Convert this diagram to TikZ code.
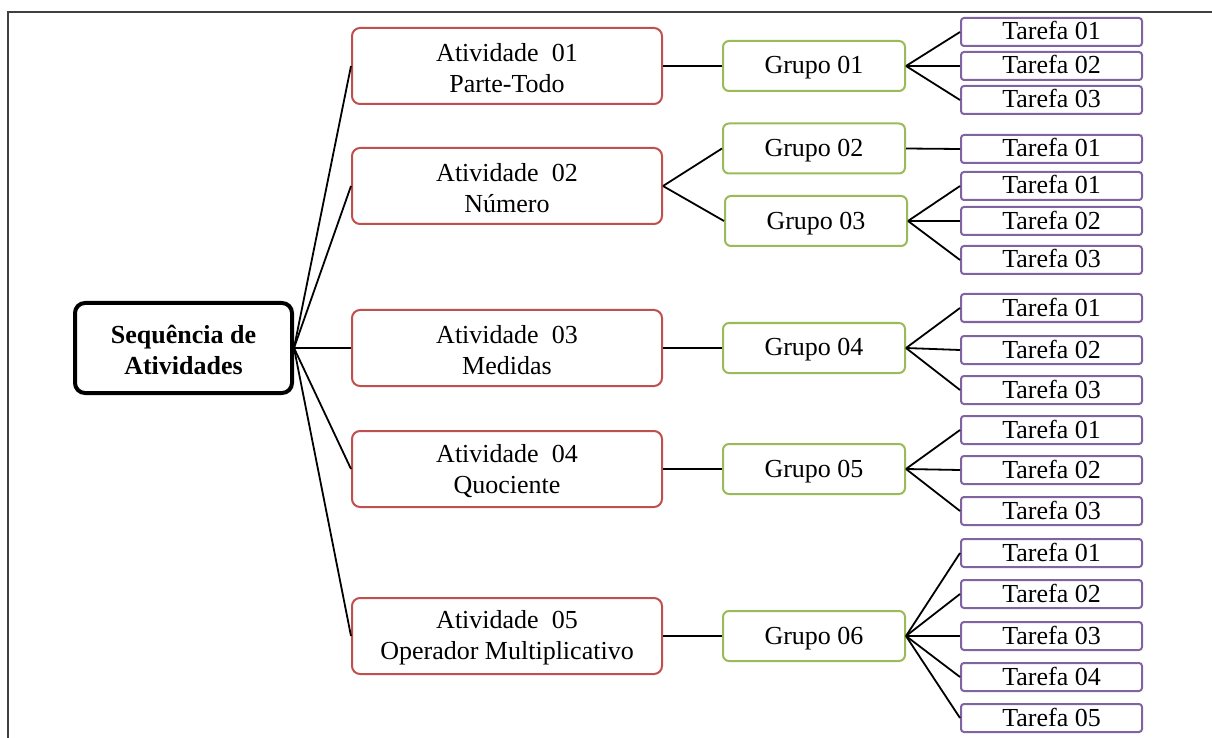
\documentclass[tikz,border=0pt]{standalone}
\usepackage{fontspec}
\setmainfont{Liberation Serif}
\definecolor{actred}{HTML}{C0504D}
\definecolor{grpgreen}{HTML}{9BBB59}
\definecolor{taskpurple}{HTML}{8064A2}
\definecolor{framegray}{HTML}{404040}
\begin{document}
\begin{tikzpicture}[x=0.5pt,y=-0.5pt,
  every node/.style={font=\fontsize{13}{15.5}\selectfont, inner sep=0pt, align=center},
  rootbox/.style={draw=black, line width=2pt, rounded corners=5pt, minimum width=108.5pt, minimum height=45pt, font=\fontsize{13}{15.5}\selectfont\bfseries},
  actbox/.style={draw=actred, line width=1pt, rounded corners=4pt, minimum width=155pt, minimum height=38pt},
  oneline/.style={text height=0.8em, text depth=0pt},
  grpbox/.style={oneline, draw=grpgreen, line width=1pt, rounded corners=3pt, minimum width=91pt, minimum height=25pt},
  taskbox/.style={oneline, draw=taskpurple, line width=1pt, rounded corners=1.5pt, minimum width=90.5pt, minimum height=14pt},
  link/.style={draw=black, line width=0.9pt}]
\useasboundingbox (0,0) rectangle (1212,738);
% frame
\draw[framegray, line width=0.8pt] (1214,12) -- (8,12) -- (8,740);

% root
\node[rootbox] (root) at (183.5,348) {\strut Sequência de\\Atividades};

% activities
\node[actbox] (a1) at (507,66)  {\strut Atividade~~01\\Parte-Todo};
\node[actbox] (a2) at (507,186) {\strut Atividade~~02\\Número};
\node[actbox] (a3) at (507,348) {\strut Atividade~~03\\Medidas};
\node[actbox] (a4) at (507,469) {\strut Atividade~~04\\Quociente};
\node[actbox] (a5) at (507,636) {\strut Atividade~~05\\Operador Multiplicativo};

% groups
\node[grpbox] (g1) at (814,66)    {Grupo 01};
\node[grpbox] (g2) at (814,148.5) {Grupo 02};
\node[grpbox] (g3) at (816,221)   {Grupo 03};
\node[grpbox] (g4) at (814,348)   {Grupo 04};
\node[grpbox] (g5) at (814,469)   {Grupo 05};
\node[grpbox] (g6) at (814,636)   {Grupo 06};

% tasks
\node[taskbox] (t11) at (1051.5,32)  {Tarefa 01};
\node[taskbox] (t12) at (1051.5,66)  {Tarefa 02};
\node[taskbox] (t13) at (1051.5,100) {Tarefa 03};
\node[taskbox] (t21) at (1051.5,149) {Tarefa 01};
\node[taskbox] (t31) at (1051.5,186) {Tarefa 01};
\node[taskbox] (t32) at (1051.5,221) {Tarefa 02};
\node[taskbox] (t33) at (1051.5,260) {Tarefa 03};
\node[taskbox] (t41) at (1051.5,308) {Tarefa 01};
\node[taskbox] (t42) at (1051.5,350) {Tarefa 02};
\node[taskbox] (t43) at (1051.5,390) {Tarefa 03};
\node[taskbox] (t51) at (1051.5,430) {Tarefa 01};
\node[taskbox] (t52) at (1051.5,470) {Tarefa 02};
\node[taskbox] (t53) at (1051.5,511) {Tarefa 03};
\node[taskbox] (t61) at (1051.5,553) {Tarefa 01};
\node[taskbox] (t62) at (1051.5,594) {Tarefa 02};
\node[taskbox] (t63) at (1051.5,636) {Tarefa 03};
\node[taskbox] (t64) at (1051.5,677) {Tarefa 04};
\node[taskbox] (t65) at (1051.5,718) {Tarefa 05};

% connectors
\foreach \a in {a1,a2,a3,a4,a5} \draw[link] (root.east) -- (\a.west);
\foreach \a/\g in {a1/g1,a2/g2,a2/g3,a3/g4,a4/g5,a5/g6} \draw[link] (\a.east) -- (\g.west);
\foreach \g/\t in {g1/t11,g1/t12,g1/t13,g2/t21,g3/t31,g3/t32,g3/t33,
                   g4/t41,g4/t42,g4/t43,g5/t51,g5/t52,g5/t53,
                   g6/t61,g6/t62,g6/t63,g6/t64,g6/t65}
  \draw[link] (\g.east) -- (\t.west);
\end{tikzpicture}
\end{document}
